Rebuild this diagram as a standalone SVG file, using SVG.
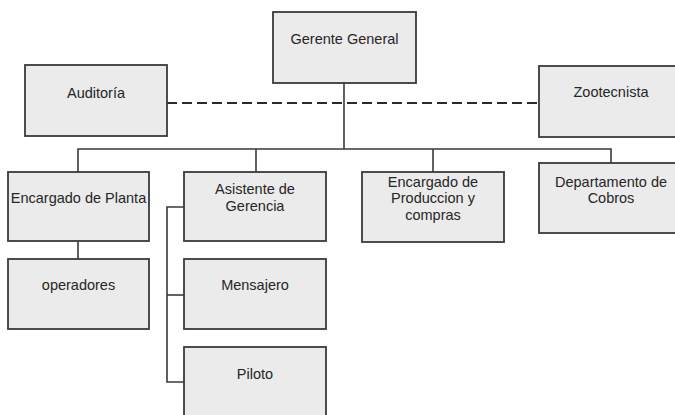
<svg xmlns="http://www.w3.org/2000/svg" width="675" height="415" viewBox="0 0 675 415">
  <style>
    .box { fill: #ebebeb; stroke: #3a3a3a; stroke-width: 1.8; }
    .lbl { font-family: "Liberation Sans", Arial, sans-serif; font-size: 14.5px; fill: #262626; text-anchor: middle; }
    .ln { fill: none; stroke: #3a3a3a; stroke-width: 1.6; }
    .dash { fill: none; stroke: #2a2a2a; stroke-width: 2.2; stroke-dasharray: 10 5; }
  </style>
  <rect width="675" height="415" fill="#ffffff"/>

  <!-- connectors -->
  <g id="connectors">
    <line class="dash" x1="167" y1="103" x2="539" y2="103"/>
    <line class="ln" x1="344" y1="83" x2="344" y2="149"/>
    <polyline class="ln" points="78,172 78,149 611,149 611,163"/>
    <line class="ln" x1="256" y1="149" x2="256" y2="172"/>
    <line class="ln" x1="433" y1="149" x2="433" y2="172"/>
    <line class="ln" x1="78" y1="241" x2="78" y2="259"/>
    <polyline class="ln" points="184,207 167,207 167,382 184,382"/>
    <line class="ln" x1="167" y1="295" x2="184" y2="295"/>
  </g>

  <g id="gerente-general">
    <rect class="box" x="273" y="12" width="143" height="71"/>
    <text class="lbl" x="344.5" y="44">Gerente General</text>
  </g>
  <g id="auditoria">
    <rect class="box" x="25" y="65" width="142" height="71"/>
    <text class="lbl" x="96" y="98">Auditoría</text>
  </g>
  <g id="zootecnista">
    <rect class="box" x="539" y="66" width="145" height="71"/>
    <text class="lbl" x="611" y="97">Zootecnista</text>
  </g>
  <g id="encargado-planta">
    <rect class="box" x="8" y="172" width="141" height="69"/>
    <text class="lbl" x="78.5" y="203">Encargado de Planta</text>
  </g>
  <g id="asistente-gerencia">
    <rect class="box" x="184" y="172" width="142" height="69"/>
    <text class="lbl" x="255" y="194">Asistente de</text>
    <text class="lbl" x="255" y="211">Gerencia</text>
  </g>
  <g id="encargado-produccion">
    <rect class="box" x="362" y="172" width="142" height="70"/>
    <text class="lbl" x="433" y="187">Encargado de</text>
    <text class="lbl" x="433" y="203">Produccion y</text>
    <text class="lbl" x="433" y="220">compras</text>
  </g>
  <g id="departamento-cobros">
    <rect class="box" x="539" y="163" width="145" height="70"/>
    <text class="lbl" x="611" y="187">Departamento de</text>
    <text class="lbl" x="611" y="203">Cobros</text>
  </g>
  <g id="operadores">
    <rect class="box" x="8" y="259" width="141" height="70"/>
    <text class="lbl" x="78.5" y="290">operadores</text>
  </g>
  <g id="mensajero">
    <rect class="box" x="184" y="259" width="142" height="70"/>
    <text class="lbl" x="255" y="290">Mensajero</text>
  </g>
  <g id="piloto">
    <rect class="box" x="184" y="347" width="142" height="80"/>
    <text class="lbl" x="255" y="379">Piloto</text>
  </g>
</svg>
